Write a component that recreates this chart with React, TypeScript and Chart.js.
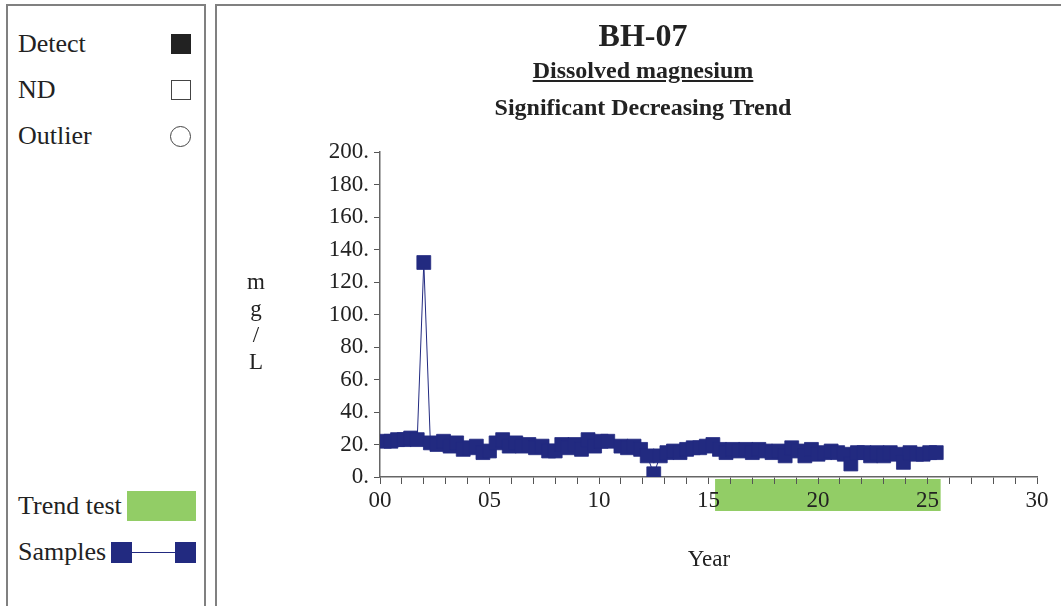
import React, { useEffect, useRef } from 'react';
import { Chart, registerables } from 'chart.js';

Chart.register(...registerables);

// ---- data ----
const sampleYears = [
  0.2, 0.5, 0.8, 1.1, 1.4, 1.7, 2.0, 2.3, 2.6, 2.9, 3.2, 3.5, 3.8, 4.1, 4.4, 4.7,
  5.0, 5.3, 5.6, 5.9, 6.2, 6.5, 6.8, 7.1, 7.4, 7.7, 8.0, 8.3, 8.6, 8.9, 9.2, 9.5,
  9.8, 10.1, 10.4, 11.0, 11.3, 11.6, 11.9, 12.2, 12.5, 12.8, 13.1, 13.4, 13.7, 14.0,
  14.3, 14.6, 14.9, 15.2, 15.5, 15.8, 16.1, 16.4, 16.7, 17.0, 17.3, 17.6, 17.9, 18.2,
  18.5, 18.8, 19.1, 19.4, 19.7, 20.0, 20.3, 20.6, 20.9, 21.2, 21.5, 21.8, 22.1, 22.4,
  22.7, 23.0, 23.3, 23.6, 23.9, 24.2, 24.5, 24.8, 25.1, 25.4,
];
const sampleValues = [
  22, 22, 23, 23, 24, 23, 132, 21, 20, 22, 19, 21, 17, 18, 19, 15,
  16, 21, 23, 19, 21, 19, 20, 18, 19, 16, 16, 20, 18, 20, 17, 23,
  19, 22, 22, 19, 18, 19, 17, 13, 2, 13, 15, 16, 15, 17,
  18, 18, 19, 20, 17, 15, 17, 16, 17, 15, 17, 16, 15, 16,
  13, 18, 16, 13, 17, 14, 15, 16, 15, 14, 8, 15, 15, 13,
  15, 13, 15, 14, 9, 15, 14, 14, 15, 15,
];
const xTickLabels = ['00', '05', '10', '15', '20', '25', '30'];
const xRange = [0, 30];
const yRange = [0, 200];
const yStep = 20;
const trendTestRange = [15.3, 25.6];

const SERIF = '"Liberation Serif", "Times New Roman", serif';
const NAVY = '#222a80';
const GREEN = '#92cd66';
const TEXT = '#222222';

const trendBandPlugin = {
  id: 'trendBand',
  beforeDraw(chart: any) {
    const { ctx, chartArea, scales } = chart;
    const x0 = scales.x.getPixelForValue(trendTestRange[0]);
    const x1 = scales.x.getPixelForValue(trendTestRange[1]);
    ctx.save();
    ctx.fillStyle = GREEN;
    ctx.fillRect(x0, chartArea.bottom + 2, x1 - x0, 32);
    ctx.restore();
  },
};

function ChartCanvas() {
  const ref = useRef<HTMLCanvasElement | null>(null);
  useEffect(() => {
    if (!ref.current) return;
    const chart = new Chart(ref.current, {
      type: 'line',
      data: {
        datasets: [
          {
            label: 'Samples',
            data: sampleYears.map((x, i) => ({ x, y: sampleValues[i] })),
            borderColor: NAVY,
            backgroundColor: NAVY,
            borderWidth: 1,
            pointStyle: 'rect',
            pointRadius: 9.8,
            pointBorderWidth: 0.8,
            pointBorderColor: NAVY,
            pointBackgroundColor: NAVY,
            tension: 0,
          },
        ],
      },
      options: {
        responsive: false,
        animation: false,
        devicePixelRatio: 1,
        layout: { padding: { left: 310, right: 24, top: 152, bottom: 79 } },
        plugins: {
          legend: { display: false },
          tooltip: { enabled: false },
          title: { display: false },
        },
        scales: {
          x: {
            type: 'linear',
            min: xRange[0],
            max: xRange[1],
            afterFit: (s: any) => { s.height = 50; },
            grid: { drawOnChartArea: false, drawTicks: true, tickLength: 7, color: '#555', lineWidth: 1 },
            border: { display: true, color: '#666', width: 1.5 },
            ticks: {
              stepSize: 1,
              autoSkip: false,
              maxRotation: 0,
              padding: 3,
              color: TEXT,
              font: { family: SERIF, size: 23 },
              callback: (v: any) => (Number(v) % 5 === 0 ? xTickLabels[Number(v) / 5] : ''),
            },
          },
          y: {
            type: 'linear',
            min: yRange[0],
            max: yRange[1],
            afterFit: (s: any) => { s.width = 70; },
            grid: { drawOnChartArea: false, drawTicks: true, tickLength: 6, color: '#555', lineWidth: 1 },
            border: { display: true, color: '#666', width: 1.5 },
            ticks: {
              stepSize: yStep,
              padding: 5,
              color: TEXT,
              font: { family: SERIF, size: 23 },
              callback: (v: any) => `${v}.`,
            },
          },
        },
      },
      plugins: [trendBandPlugin],
    } as any);
    return () => chart.destroy();
  }, []);
  return (
    <canvas
      ref={ref}
      width={1061}
      height={606}
      style={{ position: 'absolute', left: 0, top: 0, width: 1061, height: 606 }}
    />
  );
}

const txt = (fs: number, extra: React.CSSProperties = {}): React.CSSProperties => ({
  position: 'absolute',
  fontFamily: SERIF,
  fontSize: fs,
  lineHeight: `${fs}px`,
  color: TEXT,
  whiteSpace: 'nowrap',
  ...extra,
});

export default function App() {
  return (
    <div
      style={{
        position: 'fixed',
        left: 0,
        top: 0,
        width: 1061,
        height: 606,
        overflow: 'hidden',
        background: '#fff',
      }}
    >
      {/* panel frames */}
      <div style={{ position: 'absolute', left: 6, top: 4, width: 196, height: 700, border: '2px solid #808080' }} />
      <div style={{ position: 'absolute', left: 215, top: 4, width: 900, height: 700, borderLeft: '2px solid #808080', borderTop: '2px solid #808080' }} />

      {/* legend panel */}
      <div style={txt(26, { left: 18, top: 31 })}>Detect</div>
      <div style={{ position: 'absolute', left: 171, top: 34, width: 20, height: 20, background: '#222' }} />
      <div style={txt(26, { left: 18, top: 77 })}>ND</div>
      <div style={{ position: 'absolute', left: 171, top: 80, width: 18, height: 18, border: '1px solid #444' }} />
      <div style={txt(26, { left: 18, top: 123 })}>Outlier</div>
      <div style={{ position: 'absolute', left: 170, top: 126, width: 19, height: 19, border: '1px solid #444', borderRadius: '50%' }} />

      <div style={txt(26, { left: 18, top: 493 })}>Trend test</div>
      <div style={{ position: 'absolute', left: 127, top: 491, width: 69, height: 30, background: GREEN }} />
      <div style={txt(26, { left: 18, top: 539 })}>Samples</div>
      <div style={{ position: 'absolute', left: 111, top: 542, width: 21, height: 21, background: NAVY }} />
      <div style={{ position: 'absolute', left: 132, top: 552, width: 43, height: 1, background: NAVY }} />
      <div style={{ position: 'absolute', left: 175, top: 542, width: 21, height: 21, background: NAVY }} />

      <ChartCanvas />

      {/* titles */}
      <div style={txt(32, { left: 643, top: 19, transform: 'translateX(-50%)', fontWeight: 'bold' })}>BH-07</div>
      <div style={txt(24, { left: 643, top: 58, transform: 'translateX(-50%)', fontWeight: 'bold', textDecoration: 'underline' })}>Dissolved magnesium</div>
      <div style={txt(24, { left: 643, top: 95, transform: 'translateX(-50%)', fontWeight: 'bold' })}>Significant Decreasing Trend</div>

      {/* axis titles */}
      {['m', 'g', '/', 'L'].map((c, i) => (
        <div
          key={i}
          style={{
            position: 'absolute',
            left: 236,
            width: 40,
            textAlign: 'center',
            top: 269 + i * 26.5,
            height: 26.5,
            lineHeight: '26.5px',
            fontFamily: SERIF,
            fontSize: 23,
            color: TEXT,
          }}
        >
          {c}
        </div>
      ))}
      <div style={txt(23, { left: 709, top: 547, transform: 'translateX(-50%)' })}>Year</div>
    </div>
  );
}
